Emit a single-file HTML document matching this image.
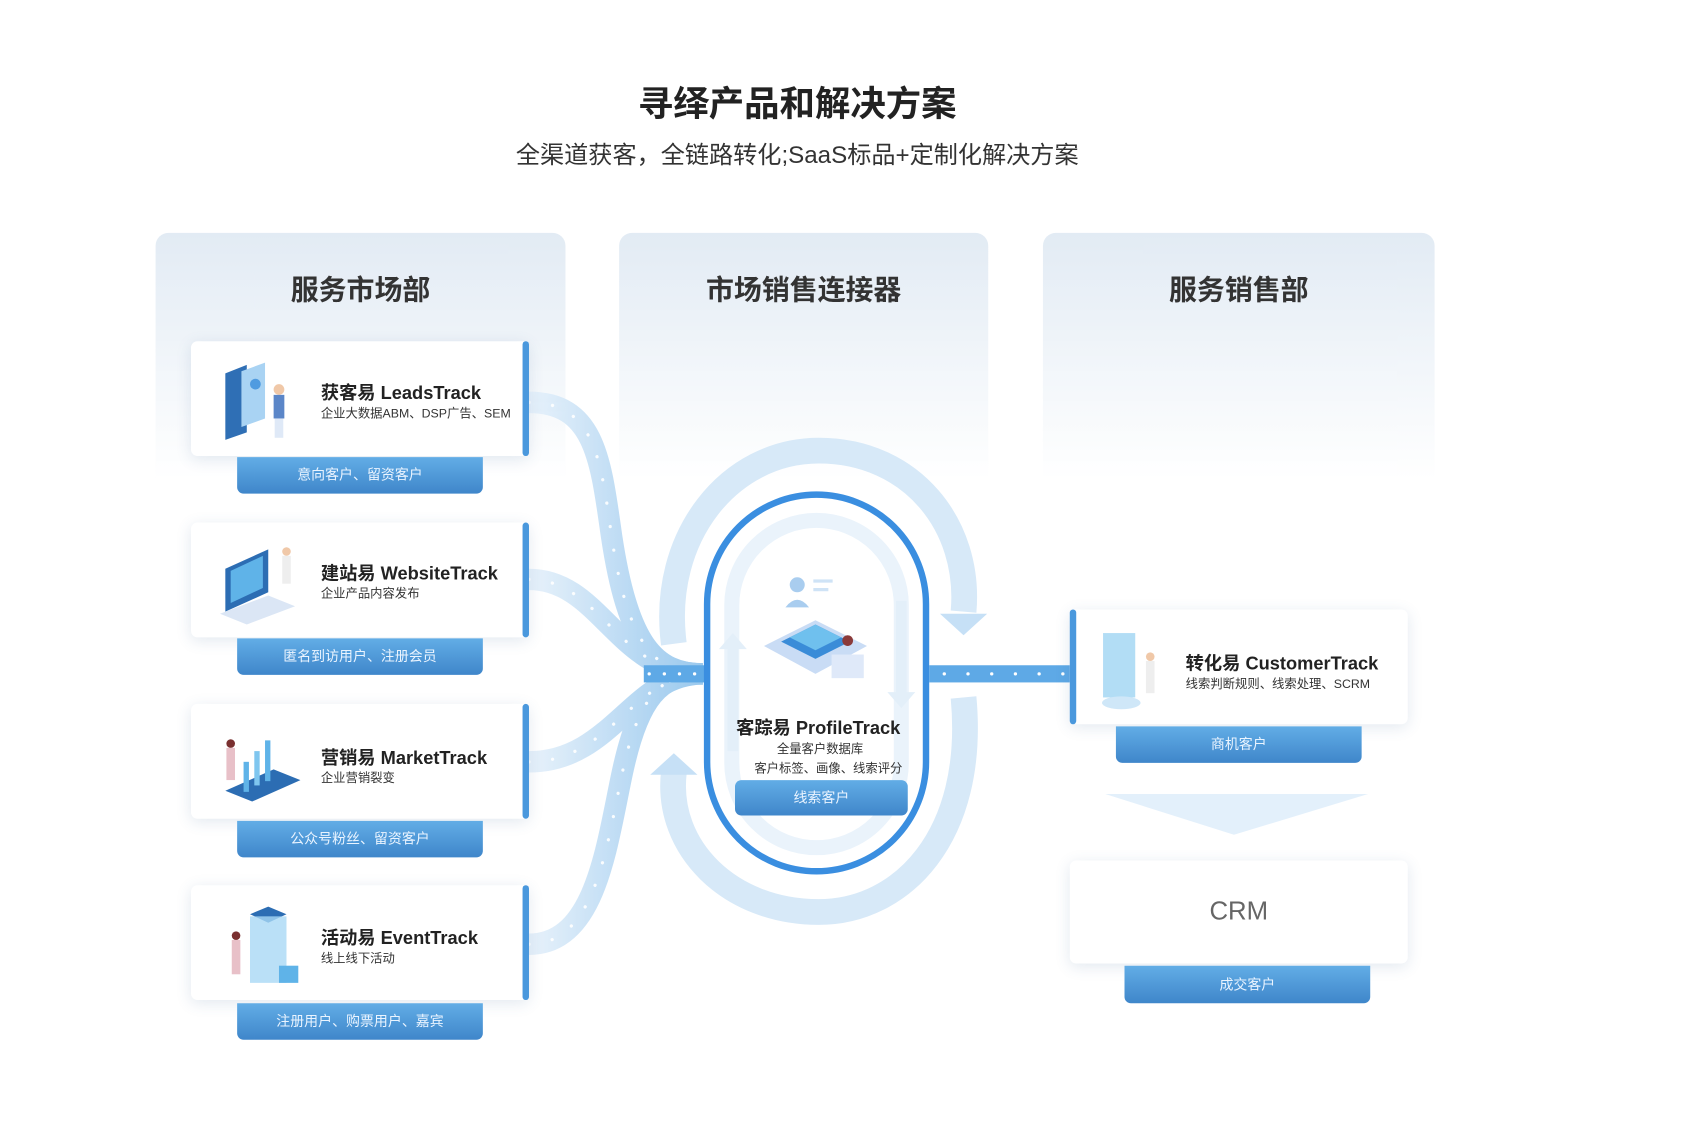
<!DOCTYPE html>
<html><head><meta charset="utf-8"><style>
html,body{margin:0;padding:0;background:#fff;width:1682px;height:1148px;overflow:hidden}
#s{position:absolute;left:0;top:0;width:1568px;height:1070px;transform:scale(1.073);transform-origin:0 0;font-family:"Liberation Sans","Noto Sans CJK SC",sans-serif;color:#222}
.a{position:absolute}
.panel{position:absolute;top:217px;height:230px;border-radius:12px 12px 0 0;background:linear-gradient(#e2ebf4,rgba(255,255,255,0))}
.ph{position:absolute;top:250px;font-size:26px;font-weight:bold;color:#333;text-align:center}
.card{position:absolute;width:315px;height:107px;background:#fff;border-radius:6px;box-shadow:0 3px 14px rgba(60,100,150,0.14)}
.bar{position:absolute;top:0;width:6px;height:107px;background:#4a98dd;border-radius:3px}
.tab{position:absolute;width:229px;height:34px;border-radius:0 0 6px 6px;background:linear-gradient(#62ade6,#3f86ca);color:#eaf4ff;font-size:13px;text-align:center;line-height:34px}
.t1{position:absolute;font-size:17px;font-weight:bold;color:#222;white-space:nowrap}
.t2{position:absolute;font-size:11.5px;color:#333;white-space:nowrap}
</style></head><body><div id="s">
<div class="a" style="left:0;width:1486px;top:70px;text-align:center;font-size:33px;font-weight:bold;color:#222">寻绎产品和解决方案</div>
<div class="a" style="left:0;width:1486px;top:127px;text-align:center;font-size:22.5px;color:#333">全渠道获客，全链路转化;SaaS标品+定制化解决方案</div>

<div class="panel" style="left:145px;width:382px"></div>
<div class="panel" style="left:577px;width:344px"></div>
<div class="panel" style="left:972px;width:365px"></div>
<div class="ph" style="left:145px;width:382px">服务市场部</div>
<div class="ph" style="left:577px;width:344px">市场销售连接器</div>
<div class="ph" style="left:972px;width:365px">服务销售部</div>

<svg class="a" style="left:0;top:0" width="1550" height="1058">
<defs>
<linearGradient id="g1" x1="0" x2="1"><stop offset="0" stop-color="#e6f1fb"/><stop offset="1" stop-color="#8fc3ec"/></linearGradient>
</defs>
<path d="M628,600 C615,500 680,420 763,420 C850,420 905,490 898,570" fill="none" stroke="#d7e9f8" stroke-width="24"/>
<polygon points="876,572 920,572 898,592" fill="#c6e0f6"/>
<path d="M898,650 C910,780 840,850 763,850 C680,850 620,790 628,720" fill="none" stroke="#d7e9f8" stroke-width="24"/>
<polygon points="606,722 650,722 628,702" fill="#c6e0f6"/>
<g fill="none" stroke="url(#g1)" stroke-width="20" opacity="0.9">
<path d="M493,375 C555,375 560,430 570,500 C585,600 610,628 655,628"/>
<path d="M493,540 C560,540 575,628 655,628"/>
<path d="M493,710 C570,710 590,628 655,628"/>
<path d="M493,880 C555,880 565,790 580,720 C595,650 615,628 655,628"/>
</g>
<g fill="none" stroke="#fff" stroke-width="3" stroke-linecap="round" stroke-dasharray="0.1 22" opacity="0.9">
<path d="M493,375 C555,375 560,430 570,500 C585,600 610,628 655,628"/>
<path d="M493,540 C560,540 575,628 655,628"/>
<path d="M493,710 C570,710 590,628 655,628"/>
<path d="M493,880 C555,880 565,790 580,720 C595,650 615,628 655,628"/>
</g>
<rect x="600" y="620" width="58" height="16" fill="#5ea9e6"/>
<rect x="866" y="620" width="133" height="16" fill="#5ea9e6"/>
<line x1="880" y1="628" x2="995" y2="628" stroke="#fff" stroke-width="3" stroke-linecap="round" stroke-dasharray="0.1 22"/>
<line x1="605" y1="628" x2="655" y2="628" stroke="#fff" stroke-width="3" stroke-linecap="round" stroke-dasharray="0.1 14"/>
<rect x="659" y="461" width="204" height="351" rx="102" fill="#fff" stroke="#3a8ee0" stroke-width="6"/>
<rect x="682" y="485" width="158" height="305" rx="79" fill="none" stroke="#eaf3fb" stroke-width="14"/>
<path d="M683,600 L683,700" stroke="#e3eff9" stroke-width="10"/><polygon points="670,605 696,605 683,590" fill="#e3eff9"/>
<path d="M840,560 L840,650" stroke="#e3eff9" stroke-width="10"/><polygon points="827,645 853,645 840,660" fill="#e3eff9"/>
<polygon points="712,602 760,578 808,602 760,628" fill="#c9dcf5"/>
<polygon points="728,598 760,582 792,598 760,614" fill="#3a8cd8"/>
<polygon points="736,594 760,582 784,594 760,606" fill="#6fc0ee"/>
<circle cx="743" cy="545" r="7" fill="#a9cdef"/><path d="M732,566 q11,-14 22,0z" fill="#a9cdef"/>
<rect x="758" y="540" width="18" height="3" fill="#cfe3f6"/><rect x="758" y="548" width="14" height="3" fill="#cfe3f6"/>
<rect x="775" y="610" width="30" height="22" fill="#dfe9f9"/><circle cx="790" cy="597" r="5" fill="#8a3a3a"/>
<polygon points="1030,740 1275,740 1150,778" fill="#dcecfa" opacity="0.8"/>
</svg>

<div class="card" style="left:178px;top:318px"><div class="bar" style="right:0"></div></div>
<div class="tab" style="left:221px;top:426px">意向客户、留资客户</div>
<div class="t1" style="left:299px;top:352px">获客易 LeadsTrack</div>
<div class="t2" style="left:299px;top:377px">企业大数据ABM、DSP广告、SEM</div>
<svg class="a" style="left:205px;top:328px" width="75" height="85"><polygon points="5,20 25,12 25,75 5,82" fill="#2f6fb5"/><polygon points="20,18 42,10 42,62 20,70" fill="#a9d3f3"/><circle cx="33" cy="30" r="5" fill="#4f9be0"/><circle cx="55" cy="35" r="5" fill="#f0c8a8"/><rect x="50" y="40" width="10" height="22" fill="#5b86c8"/><rect x="51" y="62" width="8" height="18" fill="#dfe9f7"/></svg>

<div class="card" style="left:178px;top:487px"><div class="bar" style="right:0"></div></div>
<div class="tab" style="left:221px;top:595px">匿名到访用户、注册会员</div>
<div class="t1" style="left:299px;top:520px">建站易 WebsiteTrack</div>
<div class="t2" style="left:299px;top:545px">企业产品内容发布</div>
<svg class="a" style="left:205px;top:500px" width="75" height="85"><polygon points="5,30 45,12 45,52 5,70" fill="#2c6db3"/><polygon points="10,32 40,18 40,48 10,62" fill="#5fb3e8"/><polygon points="0,72 45,55 70,65 25,82" fill="#dbe6f5"/><circle cx="62" cy="14" r="4" fill="#f0c8a8"/><rect x="58" y="18" width="8" height="26" fill="#eee"/></svg>

<div class="card" style="left:178px;top:656px"><div class="bar" style="right:0"></div></div>
<div class="tab" style="left:221px;top:765px">公众号粉丝、留资客户</div>
<div class="t1" style="left:299px;top:692px">营销易 MarketTrack</div>
<div class="t2" style="left:299px;top:717px">企业营销裂变</div>
<svg class="a" style="left:205px;top:675px" width="75" height="85"><polygon points="5,62 50,42 75,52 30,72" fill="#2c6db3"/><rect x="22" y="35" width="5" height="28" fill="#5fb3e8"/><rect x="32" y="25" width="5" height="32" fill="#7fc6ef"/><rect x="42" y="15" width="5" height="38" fill="#5fb3e8"/><circle cx="10" cy="18" r="4" fill="#7a3030"/><rect x="6" y="22" width="8" height="30" fill="#e8c0c8"/></svg>

<div class="card" style="left:178px;top:825px"><div class="bar" style="right:0"></div></div>
<div class="tab" style="left:221px;top:935px">注册用户、购票用户、嘉宾</div>
<div class="t1" style="left:299px;top:860px">活动易 EventTrack</div>
<div class="t2" style="left:299px;top:885px">线上线下活动</div>
<svg class="a" style="left:205px;top:840px" width="75" height="85"><polygon points="28,12 45,5 62,12 45,20" fill="#2c6db3"/><rect x="28" y="14" width="34" height="62" fill="#a9d8f5" opacity="0.8"/><rect x="55" y="60" width="18" height="16" fill="#5fb3e8"/><circle cx="15" cy="32" r="4" fill="#7a3030"/><rect x="11" y="36" width="8" height="32" fill="#e8c0c8"/></svg>

<div class="t1" style="left:686px;top:664px">客踪易 ProfileTrack</div>
<div class="t2" style="left:724px;top:690px">全量客户数据库</div>
<div class="t2" style="left:703px;top:708px">客户标签、画像、线索评分</div>
<div class="a" style="left:685px;top:727px;width:161px;height:33px;border-radius:6px;background:linear-gradient(#62ade6,#3f86ca);color:#eaf4ff;font-size:13px;text-align:center;line-height:33px">线索客户</div>

<div class="card" style="left:997px;top:568px"><div class="bar" style="left:0"></div></div>
<div class="tab" style="left:1040px;top:677px">商机客户</div>
<div class="t1" style="left:1105px;top:604px">转化易 CustomerTrack</div>
<div class="t2" style="left:1105px;top:629px">线索判断规则、线索处理、SCRM</div>
<svg class="a" style="left:1020px;top:580px" width="70" height="90"><rect x="8" y="10" width="30" height="60" fill="#9fd4f3" opacity="0.8"/><ellipse cx="25" cy="75" rx="18" ry="6" fill="#cfe7f8"/><circle cx="52" cy="32" r="4" fill="#f0c8a8"/><rect x="48" y="36" width="8" height="30" fill="#eee"/></svg>

<div class="card" style="left:997px;top:802px;height:96px"></div>
<div class="a" style="left:997px;top:836px;width:315px;text-align:center;font-size:24px;color:#666">CRM</div>
<div class="tab" style="left:1048px;top:900px;height:35px;line-height:35px">成交客户</div>
</div></body></html>
